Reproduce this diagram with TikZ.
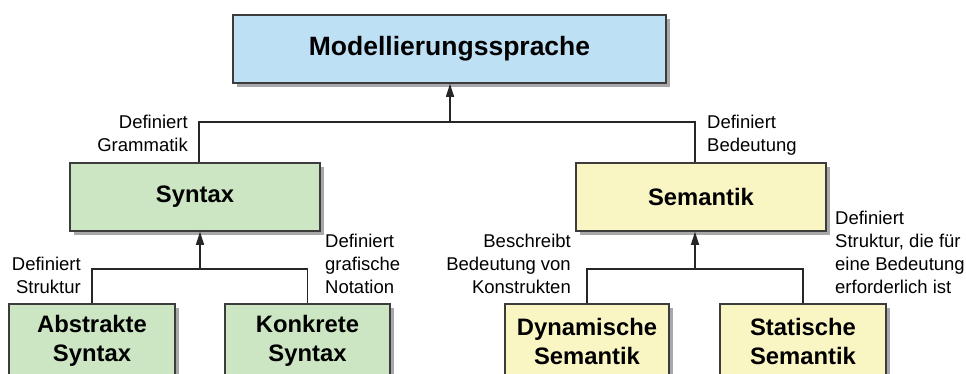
\documentclass[tikz,border=0pt]{standalone}
\usepackage{fontspec}
\setmainfont{Liberation Sans}
\usetikzlibrary{arrows.meta,shadows}
\definecolor{boxblue}{RGB}{190,224,244}
\definecolor{boxgreen}{RGB}{204,230,196}
\definecolor{boxyellow}{RGB}{250,246,196}
\definecolor{edgegray}{RGB}{60,60,60}
\definecolor{shadowgray}{RGB}{168,168,170}
\begin{document}
\begin{tikzpicture}[x=1pt,y=-1pt,
  box/.style={draw=edgegray, line width=1.6pt, rectangle, inner sep=0pt, align=center,
    font=\bfseries\fontsize{23.8}{29}\selectfont,
    drop shadow={shadow xshift=4pt, shadow yshift=-4pt, fill=shadowgray, opacity=1}},
  topbox/.style={box, fill=boxblue, font=\bfseries\fontsize{26.5}{30}\selectfont},
  gbox/.style={box, fill=boxgreen},
  ybox/.style={box, fill=boxyellow},
  lbl/.style={inner sep=0pt, font=\fontsize{18.5}{23}\selectfont},
  conn/.style={draw=black!85, line width=1.2pt},
  arr/.style={conn, -{Triangle[length=13pt,width=8pt]}}
]
\path[use as bounding box, clip] (0,0) rectangle (966,374);

\node[topbox, minimum width=433pt, minimum height=68pt] (top) at (449.5,49) {Modellierungssprache};
\node[gbox, minimum width=250pt, minimum height=68pt] (syn) at (195,197) {Syntax};
\node[ybox, minimum width=250pt, minimum height=68pt] (sem) at (701,197) {Semantik};

\node[gbox, minimum width=166pt, minimum height=74pt] (abs) at (92,341) {Abstrakte\\Syntax};
\node[gbox, minimum width=165pt, minimum height=74pt] (kon) at (307.5,341) {Konkrete\\Syntax};
\node[ybox, minimum width=164pt, minimum height=74pt] (dyn) at (587,341) {Dynamische\\Semantik};
\node[ybox, minimum width=166pt, minimum height=74pt] (sta) at (803,341) {Statische\\Semantik};

% connectors
\coordinate (j1) at (450,122);
\coordinate (j2) at (200,269);
\coordinate (j3) at (695,269);
\draw[conn] ([xshift=4pt]syn.north) |- (j1) -| ([xshift=-6pt]sem.north);
\draw[arr] (j1) -- (j1 |- top.south);
\draw[conn] (abs.north) |- (j2) -| (kon.north);
\draw[arr] (j2) -- (j2 |- syn.south);
\draw[conn] (dyn.north) |- (j3) -| (sta.north);
\draw[arr] (j3) -- (j3 |- sem.south);

% labels
\node[lbl, align=right, anchor=base east] (l1) at (188,152) {Definiert\\Grammatik};
\node[lbl, align=left, anchor=base west] (l2) at (707,152) {Definiert\\Bedeutung};
\node[lbl, align=right, anchor=base east] (l3) at (81,293) {Definiert\\Struktur};
\node[lbl, align=left, anchor=base west] (l4) at (325,293) {Definiert\\grafische\\Notation};
\node[lbl, align=right, anchor=base east] (l5) at (571,293) {Beschreibt\\Bedeutung von\\Konstrukten};
\node[lbl, align=left, anchor=base west] (l6) at (835,293) {Definiert\\Struktur, die für\\eine Bedeutung\\erforderlich ist};
\end{tikzpicture}
\end{document}
